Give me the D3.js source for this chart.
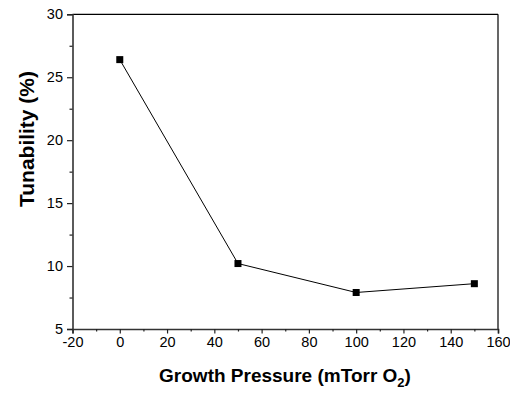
<!DOCTYPE html>
<html><head><meta charset="utf-8">
<script src="https://cdn.jsdelivr.net/npm/d3@7"></script>
<style>body{margin:0;background:#fff}svg{display:block;font-family:"Liberation Sans",Arial,sans-serif}</style>
</head><body><svg id="c" width="510" height="393"></svg>
<script>
const pressure = [0, 50, 100, 150];
const tunability = [26.4, 10.2, 7.9, 8.6];
const xTicks = [-20, 0, 20, 40, 60, 80, 100, 120, 140, 160];
const yTicks = [5, 10, 15, 20, 25, 30];
const xTitle = "Growth Pressure (mTorr O";
const xTitleSub = "2";
const yTitle = "Tunability (%)";

const svg = d3.select("#c");
const m = {l: 72.5, r: 498, t: 14.3, b: 329};
const x = d3.scaleLinear().domain([-20, 160]).range([m.l, m.r]);
const y = d3.scaleLinear().domain([5, 30]).range([m.b, m.t]);
const fmt = d => String(d);

svg.append("line").attr("x1", m.l).attr("x2", m.r).attr("y1", m.t).attr("y2", m.t).attr("stroke", "#000").attr("stroke-width", 1.2);
svg.append("line").attr("x1", m.r).attr("x2", m.r).attr("y1", m.t).attr("y2", m.b).attr("stroke", "#000").attr("stroke-width", 1.2);

const xMinor = d3.range(-10, 160, 20);
const yMinor = d3.range(7.5, 30, 5);
const gx = svg.append("g").attr("transform", `translate(0,${m.b})`)
  .call(d3.axisBottom(x).tickValues(xTicks).tickSize(4.5).tickPadding(3).tickFormat(fmt));
const gxm = svg.append("g").attr("transform", `translate(0,${m.b})`)
  .call(d3.axisBottom(x).tickValues(xMinor).tickSize(2.5).tickFormat(""));
const gy = svg.append("g").attr("transform", `translate(${m.l},0)`)
  .call(d3.axisLeft(y).tickValues(yTicks).tickSize(5.5).tickPadding(4).tickFormat(fmt));
const gym = svg.append("g").attr("transform", `translate(${m.l},0)`)
  .call(d3.axisLeft(y).tickValues(yMinor).tickSize(3).tickFormat(""));
[gx, gxm, gy, gym].forEach(g => {
  g.select(".domain").attr("stroke", "#333").attr("stroke-width", 1.6);
  g.selectAll(".tick line").attr("stroke", "#222").attr("stroke-width", 1.2);
  g.selectAll("text").attr("font-family", "Liberation Sans, Arial, sans-serif").attr("font-size", 14.5).attr("fill", "#000");
});
[gxm, gym].forEach(g => g.select(".domain").remove());

const line = d3.line().x((d, i) => x(pressure[i])).y(d => y(d));
svg.append("path").datum(tunability).attr("d", line).attr("fill", "none").attr("stroke", "#000").attr("stroke-width", 1);
svg.selectAll("rect.pt").data(tunability).join("rect").attr("class", "pt")
  .attr("x", (d, i) => x(pressure[i]) - 3.5).attr("y", d => y(d) - 3.5)
  .attr("width", 7).attr("height", 7).attr("fill", "#000");

const xt = svg.append("text").attr("x", 285).attr("y", 382).attr("text-anchor", "middle")
  .attr("font-size", 19).attr("font-weight", "bold").attr("fill", "#000");
xt.append("tspan").text(xTitle);
xt.append("tspan").attr("font-size", 13).attr("dy", 5).text(xTitleSub);
xt.append("tspan").attr("dy", -5).text(")");
svg.append("text").attr("transform", `translate(34,139) rotate(-90)`).attr("text-anchor", "middle")
  .attr("font-size", 19.5).attr("font-weight", "bold").attr("fill", "#000")
  .attr("textLength", 136).attr("lengthAdjust", "spacingAndGlyphs").text(yTitle);
</script></body></html>
